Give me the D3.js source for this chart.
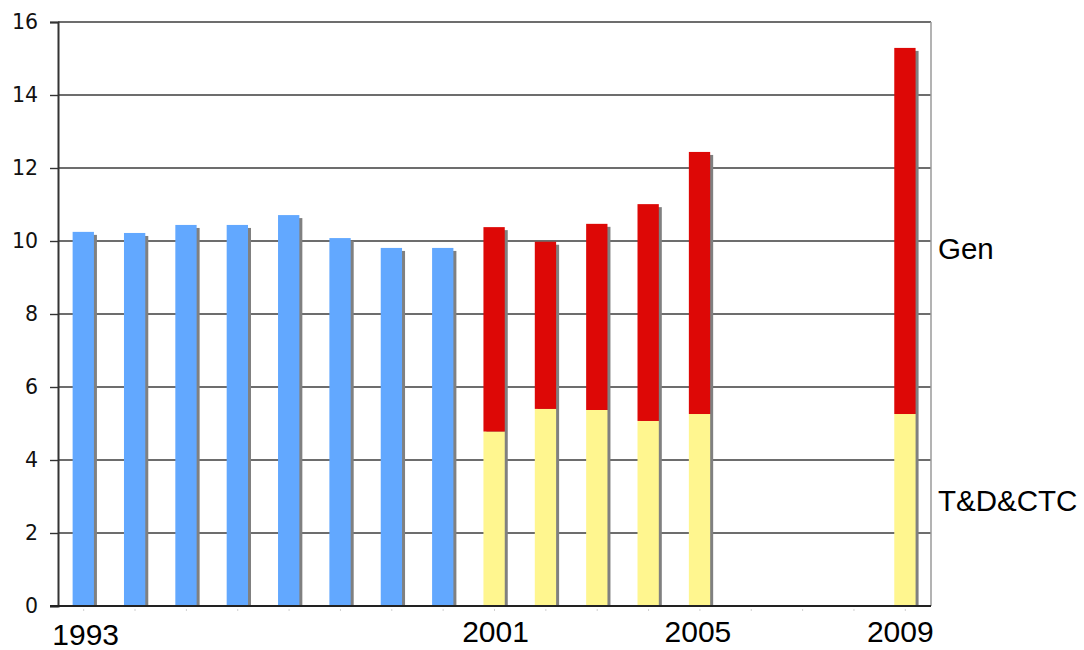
<!DOCTYPE html>
<html>
<head>
<meta charset="utf-8">
<script src="https://cdn.jsdelivr.net/npm/d3@7"></script>
<style>
  html, body { margin: 0; padding: 0; background: #fff; }
  svg { display: block; }
</style>
</head>
<body>
<svg id="chart" width="1084" height="650"></svg>
<script>
// Yearly slots on the x axis (empty years keep their slot)
const years = d3.range(1993, 2010);

// Single-series years (blue bars)
const totalYears = [1993, 1994, 1995, 1996, 1997, 1998, 1999, 2000];
const totalValues = [10.25, 10.22, 10.44, 10.44, 10.71, 10.08, 9.81, 9.81];

// Split years: T&D&CTC at the bottom, Gen stacked on top
const splitYears = [2001, 2002, 2003, 2004, 2005, 2009];
const tdctcValues = [4.78, 5.40, 5.37, 5.07, 5.26, 5.26];
const genValues = [5.60, 4.58, 5.10, 5.94, 7.18, 10.03];

// Axis labels
const yTicks = [0, 2, 4, 6, 8, 10, 12, 14, 16];
const xLabelYears = [1993, 2001, 2005, 2009];
const seriesLabels = ["Gen", "T&D&CTC"];

const svg = d3.select("#chart");
const plotLeft = 58, plotRight = 931, plotTop = 22, plotBottom = 606;

const x = d3.scaleBand().domain(years).range([plotLeft, plotRight]).padding(0);
const y = d3.scaleLinear().domain([0, 16]).range([plotBottom, plotTop]);
const barW = x.bandwidth() * 0.415;
const barX = yr => x(yr) + (x.bandwidth() - barW) / 2 - 0.4;

const colors = { total: "#62A8FF", gen: "#DD0806", tdctc: "#FFF68F", shadow: "#808080" };

// Gridlines
svg.append("g")
  .selectAll("line")
  .data(yTicks.filter(d => d > 0))
  .join("line")
  .attr("x1", plotLeft).attr("x2", plotRight)
  .attr("y1", d => y(d)).attr("y2", d => y(d))
  .attr("stroke", "#3c3c3c").attr("stroke-width", 1.4);

// Right border of the plot area
svg.append("line")
  .attr("x1", plotRight).attr("x2", plotRight)
  .attr("y1", y(16)).attr("y2", y(0))
  .attr("stroke", "#9a9a9a").attr("stroke-width", 1.5);

// Y axis with outward ticks
const yAxis = d3.axisLeft(y).tickValues(yTicks).tickSize(8).tickPadding(12);
const gy = svg.append("g").attr("transform", `translate(${plotLeft},0)`).call(yAxis);
gy.select(".domain").attr("stroke", "#333").attr("stroke-width", 2);
gy.selectAll(".tick line").attr("stroke", "#333").attr("stroke-width", 1.4);
gy.selectAll(".tick text")
  .attr("font-family", "DejaVu Sans, Verdana, sans-serif")
  .attr("font-size", 20.5).attr("fill", "#111");

// Bar records built from the arrays
const singleBars = totalYears.map((yr, i) => ({ yr, y0: 0, y1: totalValues[i], c: colors.total }));
const stackBars = [];
splitYears.forEach((yr, i) => {
  stackBars.push({ yr, y0: 0, y1: tdctcValues[i], c: colors.tdctc });
  stackBars.push({ yr, y0: tdctcValues[i], y1: tdctcValues[i] + genValues[i], c: colors.gen });
});
const columnTops = totalYears.map((yr, i) => ({ yr, v: totalValues[i] }))
  .concat(splitYears.map((yr, i) => ({ yr, v: tdctcValues[i] + genValues[i] })));

// Drop shadows behind each column
svg.append("g")
  .selectAll("rect")
  .data(columnTops)
  .join("rect")
  .attr("x", d => barX(d.yr) + 3)
  .attr("y", d => y(d.v) + 3)
  .attr("width", barW)
  .attr("height", d => y(0) - y(d.v) - 3)
  .attr("fill", colors.shadow);

// Bars
svg.append("g")
  .selectAll("rect")
  .data(singleBars.concat(stackBars))
  .join("rect")
  .attr("x", d => barX(d.yr))
  .attr("y", d => y(d.y1))
  .attr("width", barW)
  .attr("height", d => y(d.y0) - y(d.y1))
  .attr("fill", d => d.c);

// X axis baseline with tiny ticks
svg.append("line")
  .attr("x1", 50).attr("x2", plotRight)
  .attr("y1", y(0)).attr("y2", y(0))
  .attr("stroke", "#222").attr("stroke-width", 2);
svg.append("g")
  .selectAll("line")
  .data(years)
  .join("line")
  .attr("x1", d => x(d) + x.bandwidth() / 2).attr("x2", d => x(d) + x.bandwidth() / 2)
  .attr("y1", y(0) + 3).attr("y2", y(0) + 5)
  .attr("stroke", "#d0d0d0").attr("stroke-width", 1);

// Year labels
const labelShift = { 1993: [2, 645], 2001: [1, 642], 2005: [-2, 642], 2009: [-5, 642] };
svg.append("g")
  .selectAll("text")
  .data(xLabelYears)
  .join("text")
  .attr("x", d => x(d) + x.bandwidth() / 2 + labelShift[d][0])
  .attr("y", d => labelShift[d][1])
  .attr("text-anchor", "middle")
  .attr("font-family", "Liberation Sans, Arial, sans-serif")
  .attr("font-size", 30)
  .attr("fill", "#000")
  .text(d => d);

// Series labels at the right
svg.append("g")
  .selectAll("text")
  .data(seriesLabels)
  .join("text")
  .attr("x", 938)
  .attr("y", (d, i) => i === 0 ? 259 : 511)
  .attr("font-family", "Liberation Sans, Arial, sans-serif")
  .attr("font-size", 29.5)
  .attr("fill", "#000")
  .text(d => d);
</script>
</body>
</html>
